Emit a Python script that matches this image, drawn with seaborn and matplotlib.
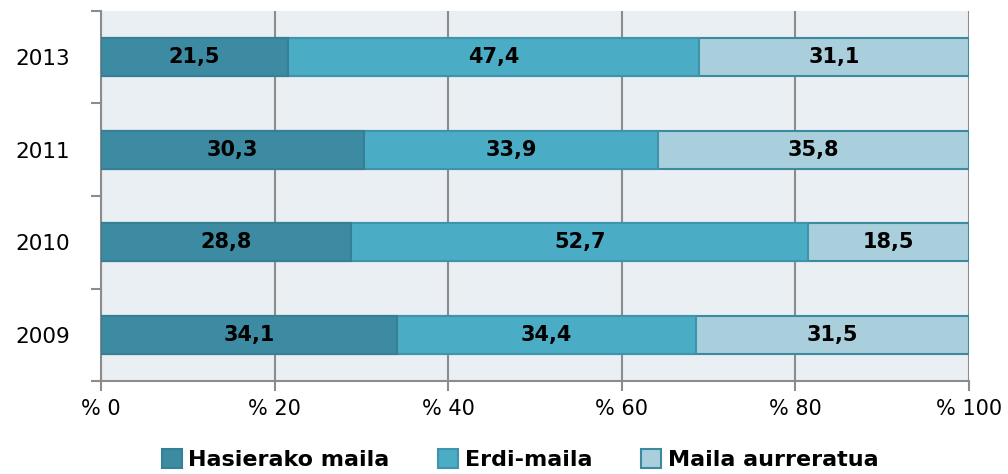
import numpy as np
import pandas as pd
import matplotlib
matplotlib.use('Agg')
import matplotlib.pyplot as plt
from matplotlib.patches import Patch
from matplotlib.ticker import FixedLocator
import seaborn as sns

years = ['2013', '2011', '2010', '2009']
levels = ['Hasierako maila', 'Erdi-maila', 'Maila aurreratua']
hasierako = [21.5, 30.3, 28.8, 34.1]
erdi = [47.4, 33.9, 52.7, 34.4]
aurreratua = [31.1, 35.8, 18.5, 31.5]
xticks = [0, 20, 40, 60, 80, 100]

colors = ['#3d8ba3', '#4bacc6', '#a9cedc']
edges = ['#367f95', '#3f93aa', '#3c8aa0']

sns.set_style('white')
plt.rcParams['font.family'] = ['DejaVu Sans']
plt.rcParams['text.color'] = 'black'
plt.rcParams['xtick.color'] = 'black'
plt.rcParams['ytick.color'] = 'black'

df = pd.DataFrame({'year': years, levels[0]: hasierako, levels[1]: erdi, levels[2]: aurreratua})
cum = df[levels].cumsum(axis=1)

fig = plt.figure(figsize=(10.08, 4.74), dpi=100)
ax = fig.add_axes([0.1002, 0.196, 0.8611, 0.781])
ax.set_facecolor('#e9eff3')

# draw cumulative totals back to front so the segments stack
for i in reversed(range(3)):
    sns.barplot(x=cum[levels[i]], y=df['year'], order=years, color=colors[i],
                edgecolor=edges[i], linewidth=1.5, width=0.41, saturation=1,
                orient='h', ax=ax, zorder=3)

# value labels at segment centres
for i, lev in enumerate(levels):
    starts = cum[lev] - df[lev]
    for j, v in enumerate(df[lev]):
        ax.text(starts[j] + v / 2, j, f'{v:.1f}'.replace('.', ','), ha='center', va='center',
                fontsize=15, fontweight='bold', color='black', zorder=5)

ax.set_xlim(0, 100)
ax.set_ylim(3.5, -0.5)
ax.xaxis.set_major_locator(FixedLocator(xticks))
ax.set_xticklabels([f'% {t}' for t in xticks])
ax.grid(axis='x', color='#8c8c8c', linewidth=1.5, zorder=0)
ax.set_axisbelow(True)
ax.set_xlabel('')
ax.set_ylabel('')

ax.tick_params(axis='x', bottom=True, length=7, width=1.5, color='#8c8c8c', labelsize=15,
               labelcolor='black', pad=6)
ax.tick_params(axis='y', which='major', left=True, length=0, labelsize=15.5,
               labelcolor='black', pad=22)
ax.yaxis.set_minor_locator(FixedLocator([-0.5, 0.5, 1.5, 2.5, 3.5]))
ax.tick_params(axis='y', which='minor', left=True, length=7.5, width=1.5, color='#8c8c8c')

for s in ['top', 'right']:
    ax.spines[s].set_visible(False)
for s in ['left', 'bottom']:
    ax.spines[s].set_color('#8c8c8c')
    ax.spines[s].set_linewidth(1.5)

handles = [Patch(facecolor=colors[i], edgecolor=edges[i], linewidth=1.5) for i in range(3)]
fig.legend(handles, levels, loc='center', bbox_to_anchor=(0.516, 0.03), ncol=3, frameon=False,
           handlelength=0.9, handleheight=0.9, handletextpad=0.3, columnspacing=2.2,
           prop={'weight': 'bold', 'size': 16})

fig.savefig('out.png', dpi=100)
